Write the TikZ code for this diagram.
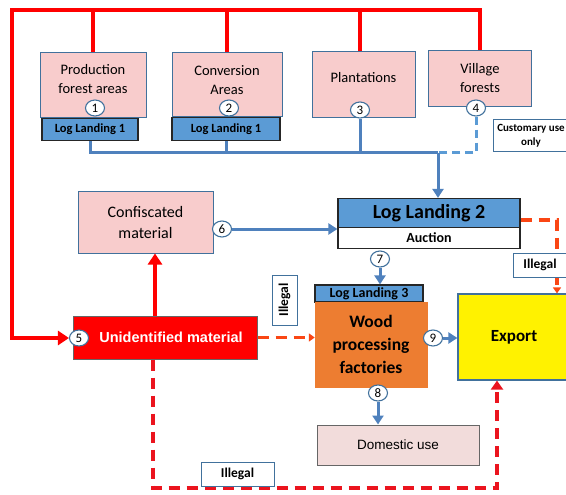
\documentclass[tikz,border=0pt]{standalone}
\usepackage{fontspec}
\setmainfont{Carlito}
\newfontfamily\arialf{Liberation Sans}
\usetikzlibrary{arrows.meta,shapes.geometric}
\definecolor{pinkf}{RGB}{248,204,204}
\definecolor{bordb}{RGB}{65,113,156}
\definecolor{llblue}{RGB}{91,155,213}
\definecolor{lineblue}{RGB}{79,129,189}
\definecolor{redl}{RGB}{255,0,0}
\definecolor{dashor}{RGB}{250,70,20}
\definecolor{dashr}{RGB}{235,20,30}
\definecolor{orangef}{RGB}{237,125,49}
\definecolor{domf}{RGB}{242,220,219}
\newcommand{\fs}[1]{\fontsize{#1}{1.3\dimexpr#1pt\relax}\selectfont}
\begin{document}
\begin{tikzpicture}[x=1pt,y=-1pt,
  srcbox/.style={draw=bordb,line width=1pt,fill=pinkf,inner sep=0pt},
  txt/.style={align=center,inner sep=0pt,font=\fs{14.5}},
  llbox/.style={draw=black!85,line width=1.2pt,fill=llblue,inner sep=0pt,font=\bfseries\fs{12.5}},
  num/.style={ellipse,draw=bordb,fill=white,line width=1.1pt,inner sep=0pt,minimum width=19pt,minimum height=16pt,font=\fs{13}},
  redline/.style={draw=redl,line width=4.5pt},
  blueline/.style={draw=lineblue,line width=3pt},
  bluedash/.style={draw=llblue,line width=3pt,dash pattern=on 8pt off 5pt},
  reddash/.style={draw=#1,line width=3.5pt,dash pattern=on 11pt off 7pt},
  lbl/.style={draw=bordb,fill=white,line width=1pt,inner sep=0pt,font=\bfseries\fs{13.5}},
  bigtip/.style={-{Triangle[length=11pt,width=14pt]}},
  bluetip/.style={-{Triangle[length=9pt,width=11pt]}},
  smalltip/.style={-{Triangle[length=6pt,width=8pt]}}
]
\useasboundingbox (0,0) rectangle (566,495);

% source boxes
\node[srcbox,minimum width=106pt,minimum height=65pt] (prod) at (93,85.5) {};
\node[txt] (prodt) at (93,79) {Production\\forest areas};
\node[srcbox,minimum width=110pt,minimum height=64pt] (conv) at (227,85) {};
\node[txt] (convt) at (227,80) {Conversion\\Areas};
\node[srcbox,minimum width=103pt,minimum height=66pt] (plant) at (363.5,85) {};
\node[txt] (plantt) at (363.5,78) {Plantations};
\node[srcbox,minimum width=103pt,minimum height=56pt] (vil) at (480,79) {};
\node[txt] (vilt) at (480,78) {Village\\forests};

\node[llbox,minimum width=96pt,minimum height=22pt] (lla) at (90,129.5) {Log Landing 1};
\node[llbox,minimum width=108pt,minimum height=23pt] (llb) at (226,129) {Log Landing 1};

\node[num] (c1) at (95,108) {1};
\node[num] (c2) at (229,108) {2};
\node[num] (c3) at (360,110) {3};
\node[num] (c4) at (476,108) {4};

\node[draw=bordb,fill=white,line width=1pt,inner sep=0pt,minimum width=76pt,minimum height=32pt,align=center,font=\bfseries\fs{11}] (cust) at (531,136) {Customary use\\only};

% middle
\node[srcbox,minimum width=135pt,minimum height=61pt,align=center,font=\fs{16}] (conf) at (145.5,222.5) {Confiscated\\material};
\node[draw=black!85,line width=1.2pt,fill=llblue,inner sep=0pt,minimum width=182pt,minimum height=29pt,font=\bfseries\fs{20}] (ll2) at (429,213) {Log Landing 2};
\node[draw=black!85,line width=1.2pt,fill=white,inner sep=0pt,minimum width=182pt,minimum height=21pt,font=\bfseries\fs{14}] (auc) at (429,238) {Auction};
\node[num] (c6) at (222,229) {6};
\node[num] (c7) at (380,259) {7};

\node[llbox,minimum width=108pt,minimum height=17pt,font=\bfseries\fs{14}] (ll3) at (369,293.5) {Log Landing 3};
\node[draw=orangef,fill=orangef,inner sep=0pt,minimum width=112pt,minimum height=85pt,align=center,font=\bfseries\fs{17.5}] (wpf) at (371,344.5) {Wood\\processing\\factories};
\node[draw=bordb,fill=yellow,line width=1.2pt,inner sep=0pt,minimum width=112pt,minimum height=86pt,font=\bfseries\fs{17}] (exp) at (514,337) {Export};
\node[num] (c9) at (433,338) {9};
\node[num] (c8) at (378,393) {8};
\node[draw=black!60,fill=domf,line width=1pt,inner sep=0pt,minimum width=162pt,minimum height=40pt,font=\arialf\fs{13.5}] (dom) at (398,445) {Domestic use};

\node[draw=black!60,fill=redl,line width=1pt,inner sep=0pt,minimum width=184pt,minimum height=43pt,text=white,font=\arialf\bfseries\fs{14.5}] (unid) at (165,337.5) {\hspace*{12pt}Unidentified material};
\node[num] (c5) at (79,338) {5};

% red top network
\coordinate (tl) at (12,10);
\draw[redline,bigtip] (vil.north) |- (tl) |- (c5.west);
\draw[redline] (prod.north) -- (prod.north |- tl);
\draw[redline] (conv.north) -- (conv.north |- tl);
\draw[redline] (c3 |- plant.north) -- (c3 |- tl);

% blue collector
\coordinate (coll) at (438,153);
\draw[bluedash] (c4.south) |- (coll);
\draw[blueline] (lla.south) |- (coll);
\draw[blueline] (llb.south) -- (llb.south |- coll);
\draw[blueline] (c3.south) -- (c3 |- coll);
\draw[blueline,bluetip] (coll) -- (coll |- ll2.north);

% middle arrows
\draw[blueline,bluetip] (c6.east) -- (c6.east -| ll2.west);
\draw[blueline,bluetip] (c7.south) -- (c7.south |- ll3.north);
\draw[blueline,bluetip] (c9.east) -- (c9.east -| exp.west);
\draw[blueline,bluetip] (c8.south) -- (c8.south |- dom.north);
\draw[redline,bigtip] ([xshift=-10pt]unid.north) -- ([xshift=-10pt]unid.north |- conf.south);

% illegal flows
\draw[reddash=dashor,smalltip] (unid.east) -- (unid.east -| wpf.west);
\node[lbl,rotate=90,minimum width=50pt,minimum height=25pt] (ill1) at (284.5,300) {Illegal};

\coordinate (rc) at (557,220);
\draw[reddash=dashor,smalltip] (ll2.east |- rc) -- (rc) -- (rc |- exp.north);
\node[lbl,minimum width=60pt,minimum height=24pt] (ill2) at (543,265) {\hspace*{-6pt}Illegal};

\coordinate (bl) at (153,488);
\draw[reddash=dashr,-{Triangle[length=9pt,width=12pt]}] ([xshift=-12pt]unid.south) -- (bl) -| ([xshift=-17pt]exp.south);
\node[lbl,minimum width=73pt,minimum height=24pt] (ill3) at (237.5,474) {Illegal};
\end{tikzpicture}
\end{document}
